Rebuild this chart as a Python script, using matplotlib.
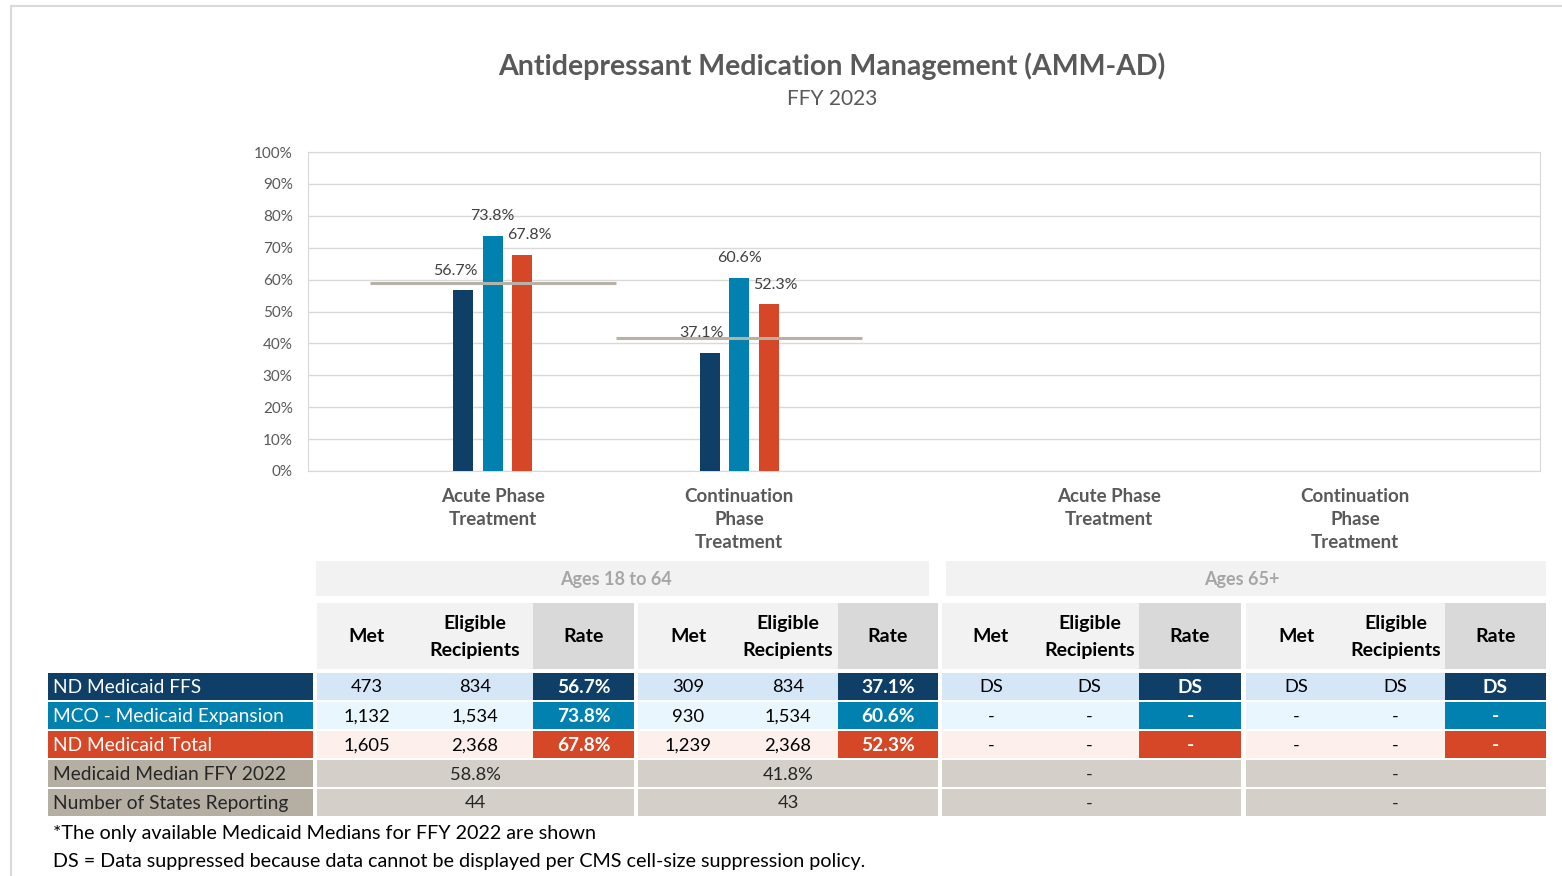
import matplotlib

matplotlib.use("Agg")
import matplotlib.pyplot as plt
import numpy as np
from matplotlib.patches import Rectangle

plt.rcParams["font.family"] = ["Lato", "DejaVu Sans"]

# ---- data ----
categories = ["Acute Phase\nTreatment", "Continuation\nPhase\nTreatment",
              "Acute Phase\nTreatment", "Continuation\nPhase\nTreatment"]
series = ["ND Medicaid FFS", "MCO - Medicaid Expansion", "ND Medicaid Total"]
ffs_rate = [56.7, 37.1, np.nan, np.nan]
mco_rate = [73.8, 60.6, np.nan, np.nan]
total_rate = [67.8, 52.3, np.nan, np.nan]
median_2022 = [58.8, 41.8, np.nan, np.nan]

age_groups = ["Ages 18 to 64", "Ages 65+"]
ffs_met = ["473", "309", "DS", "DS"]
ffs_elig = ["834", "834", "DS", "DS"]
ffs_rate_txt = ["56.7%", "37.1%", "DS", "DS"]
mco_met = ["1,132", "930", "-", "-"]
mco_elig = ["1,534", "1,534", "-", "-"]
mco_rate_txt = ["73.8%", "60.6%", "-", "-"]
total_met = ["1,605", "1,239", "-", "-"]
total_elig = ["2,368", "2,368", "-", "-"]
total_rate_txt = ["67.8%", "52.3%", "-", "-"]
median_txt = ["58.8%", "41.8%", "-", "-"]
states_txt = ["44", "43", "-", "-"]
footnotes = ["*The only available Medicaid Medians for FFY 2022 are shown",
             "DS = Data suppressed because data cannot be displayed per CMS cell-size suppression policy."]

# ---- styles ----
C_FFS, C_MCO, C_TOT = "#0f3e66", "#0181b0", "#d54726"
C_MED = "#b8b2a6"
TXT = "#595959"
W, H = 1562, 876

fig = plt.figure(figsize=(W / 100, H / 100), dpi=100)

# overlay axes in pixel coordinates for title, frame and table
ov = fig.add_axes([0, 0, 1, 1])
ov.set_xlim(0, W)
ov.set_ylim(H, 0)
ov.axis("off")
ov.plot([11, W], [6, 6], color="#d9d9d9", lw=1.5)
ov.plot([11, 11], [6, H], color="#d9d9d9", lw=1.5)

ov.text(832, 66, "Antidepressant Medication Management (AMM-AD)", ha="center",
        va="center", fontsize=20.5, fontweight="bold", color=TXT)
ov.text(832, 99, "FFY 2023", ha="center", va="center", fontsize=15, color=TXT)

# ---- bar chart ----
ax = fig.add_axes([308 / W, (H - 471) / H, 1232 / W, 319 / H])
cats = np.array([0.75, 1.75, 3.25, 4.25])
offs = [-0.12, 0.0, 0.12]
lab_dx = [-6, 0, 5]
for vals, col, off, dx in zip([ffs_rate, mco_rate, total_rate],
                              [C_FFS, C_MCO, C_TOT], offs, lab_dx):
    ax.bar(cats + off, vals, width=0.081, color=col, zorder=3)
    for x, v in zip(cats + off, vals):
        if not np.isnan(v):
            ax.annotate(f"{v:.1f}%", (x, v), xytext=(dx, 14),
                        textcoords="offset points", ha="center", va="center",
                        fontsize=11.5, color="#404040", zorder=5)
for c, m in zip(cats, median_2022):
    if not np.isnan(m):
        ax.hlines(m, c - 0.5, c + 0.5, color=C_MED, lw=2.2, zorder=4)

ax.set_xlim(0, 5)
ax.set_ylim(0, 100)
ax.set_yticks(np.arange(0, 101, 10))
ax.set_yticklabels([f"{t}%" for t in range(0, 101, 10)], fontsize=11, color=TXT)
ax.set_xticks(cats)
ax.set_xticklabels(categories, fontsize=13.5, fontweight="bold", color=TXT,
                   linespacing=1.45, va="top")
ax.tick_params(axis="both", length=0)
ax.tick_params(axis="y", pad=11)
ax.tick_params(axis="x", pad=12)
ax.grid(axis="y", color="#d9d9d9", lw=1, zorder=0)
for s in ax.spines.values():
    s.set_color("#d9d9d9")

# ---- table ----
def cell(x0, x1, y0, y1, fc, text="", **kw):
    ov.add_patch(Rectangle((x0, y0), x1 - x0, y1 - y0, facecolor=fc,
                           edgecolor="none"))
    if text:
        opts = dict(ha="center", va="center", fontsize=13, color="black")
        opts.update(kw)
        xt = x0 + 5 if opts["ha"] == "left" else (x0 + x1) / 2
        ov.text(xt, (y0 + y1) / 2 + 1, text, **opts)

grp_edges = [[317, 417, 533, 634], [638, 738, 838, 938],
             [942, 1040, 1139, 1241], [1246, 1346, 1445, 1546]]
band_spans = [(316, 929), (946, 1546)]
band_text_x = [616, 1242]
rows_y = [(673, 700), (702, 729), (731, 758), (760, 787), (789, 816)]

for (x0, x1), tx, name in zip(band_spans, band_text_x, age_groups):
    cell(x0, x1, 561, 596, "#f2f2f2")
    ov.text(tx, 579, name, ha="center", va="center", fontsize=13,
            fontweight="bold", color="#a6a6a6")

for e in grp_edges:
    cell(e[0], e[2], 603, 669, "#f2f2f2")
    cell(e[2], e[3], 603, 669, "#d9d9d9", "Rate", fontsize=14,
         fontweight="bold")
    ov.text((e[0] + e[1]) / 2, 637, "Met", ha="center", va="center",
            fontsize=14, fontweight="bold")
    ov.text((e[1] + e[2]) / 2, 637, "Eligible\nRecipients", ha="center",
            va="center", fontsize=14, fontweight="bold", linespacing=1.65)

row_specs = [
    (series[0], C_FFS, "#d5e7f7", ffs_met, ffs_elig, ffs_rate_txt),
    (series[1], C_MCO, "#eaf6fd", mco_met, mco_elig, mco_rate_txt),
    (series[2], C_TOT, "#fcefec", total_met, total_elig, total_rate_txt),
]
for (y0, y1), (name, dark, light, met, elig, rate) in zip(rows_y, row_specs):
    cell(48, 313, y0, y1, dark, name, ha="left", color="white", fontsize=13.8)
    for e, m, el, r in zip(grp_edges, met, elig, rate):
        cell(e[0], e[2], y0, y1, light)
        ov.text((e[0] + e[1]) / 2, (y0 + y1) / 2 + 1, m, ha="center",
                va="center", fontsize=13.2)
        ov.text((e[1] + e[2]) / 2, (y0 + y1) / 2 + 1, el, ha="center",
                va="center", fontsize=13.2)
        cell(e[2], e[3], y0, y1, dark, r, color="white", fontweight="bold",
             fontsize=13.8)

for (y0, y1), name, vals in zip(rows_y[3:], ["Medicaid Median FFY 2022",
                                             "Number of States Reporting"],
                                [median_txt, states_txt]):
    cell(48, 313, y0, y1, "#b5afa3", name, ha="left", fontsize=13.8,
         color="#262626")
    for e, v in zip(grp_edges, vals):
        cell(e[0], e[3], y0, y1, "#d4cfc8")
        ov.text((e[1] + e[2]) / 2, (y0 + y1) / 2 + 1, v, ha="center",
                va="center", fontsize=13.2, color="#262626")

for y, t in zip([833, 862], footnotes):
    ov.text(53, y, t, ha="left", va="center", fontsize=14.2, color="black")

fig.savefig("out.png", dpi=100)
